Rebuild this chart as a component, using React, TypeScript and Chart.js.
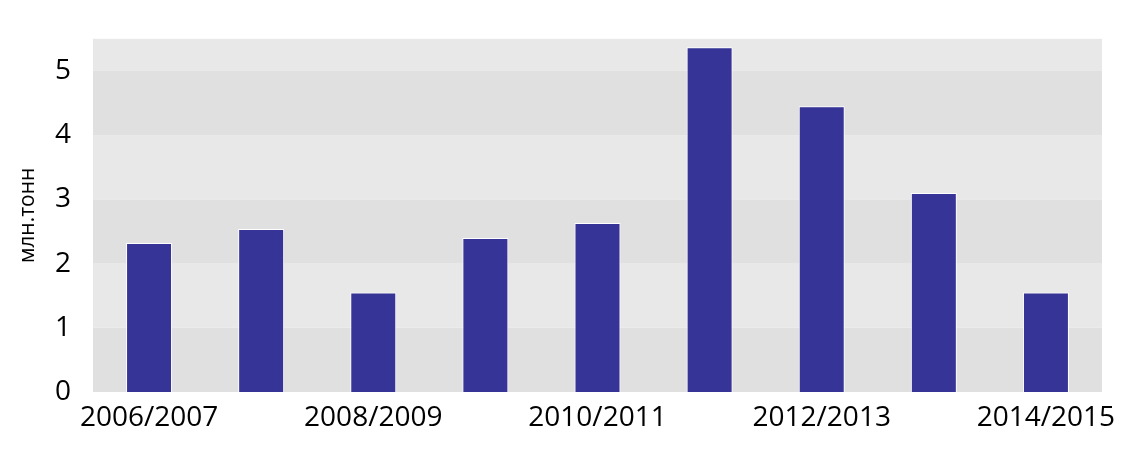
import React, { useEffect, useRef } from "react";
import { Chart, registerables } from "chart.js";

Chart.register(...registerables);

const categories = [
  "2006/2007",
  "2007/2008",
  "2008/2009",
  "2009/2010",
  "2010/2011",
  "2011/2012",
  "2012/2013",
  "2013/2014",
  "2014/2015",
];
const values = [2.32, 2.54, 1.55, 2.4, 2.63, 5.37, 4.45, 3.1, 1.55];
const yTicks = [0, 1, 2, 3, 4, 5];
const yTitle = "млн.тонн";

const FONT = "'Open Sans', 'Noto Sans', sans-serif";

const bandsPlugin = {
  id: "bands",
  beforeDraw(chart: any) {
    const { ctx, chartArea, scales } = chart;
    const y = scales.y;
    ctx.save();
    for (let i = 0; i < Math.ceil(y.max); i++) {
      const top = y.getPixelForValue(Math.min(i + 1, y.max));
      const bottom = y.getPixelForValue(i);
      ctx.fillStyle = i % 2 === 0 ? "#e0e0e0" : "#e8e8e8";
      ctx.fillRect(chartArea.left, top, chartArea.right - chartArea.left, bottom - top);
    }
    ctx.restore();
  },
};

export default function App() {
  const ref = useRef<HTMLCanvasElement>(null);
  useEffect(() => {
    document.body.style.margin = "0";
    const chart = new Chart(ref.current!, {
      type: "bar",
      data: {
        labels: categories,
        datasets: [
          {
            data: values,
            backgroundColor: "#363497",
            borderColor: "#ffffff",
            borderWidth: 1,
            categoryPercentage: 1,
            barPercentage: 0.41,
          },
        ],
      },
      options: {
        animation: false,
        responsive: false,
        maintainAspectRatio: false,
        layout: { padding: { top: 37, right: 43, left: 0, bottom: 0 } },
        plugins: { legend: { display: false }, tooltip: { enabled: false } },
        scales: {
          x: {
            grid: { display: false, drawTicks: false },
            border: { display: false },
            ticks: {
              autoSkip: false,
              maxRotation: 0,
              padding: 9,
              color: "#000",
              font: { family: FONT, size: 28 },
              callback: (v: any, i: number) => (i % 2 === 0 ? categories[i] : ""),
            },
            afterFit: (s: any) => {
              s.height = 64;
            },
          },
          y: {
            min: 0,
            max: 5.5,
            grid: { display: false, drawTicks: false },
            border: { display: false },
            afterBuildTicks: (s: any) => {
              s.ticks = yTicks.map((v) => ({ value: v }));
            },
            ticks: {
              padding: 22,
              color: "#000",
              font: { family: FONT, size: 28 },
            },
            title: {
              display: true,
              text: yTitle,
              color: "#000",
              font: { family: FONT, size: 21 },
              padding: { top: 15, bottom: 0 },
            },
            afterFit: (s: any) => {
              s.width = 93;
            },
          },
        },
      },
      plugins: [bandsPlugin],
    });
    return () => chart.destroy();
  }, []);
  return <canvas ref={ref} width={1145} height={456} style={{ display: "block" }} />;
}
